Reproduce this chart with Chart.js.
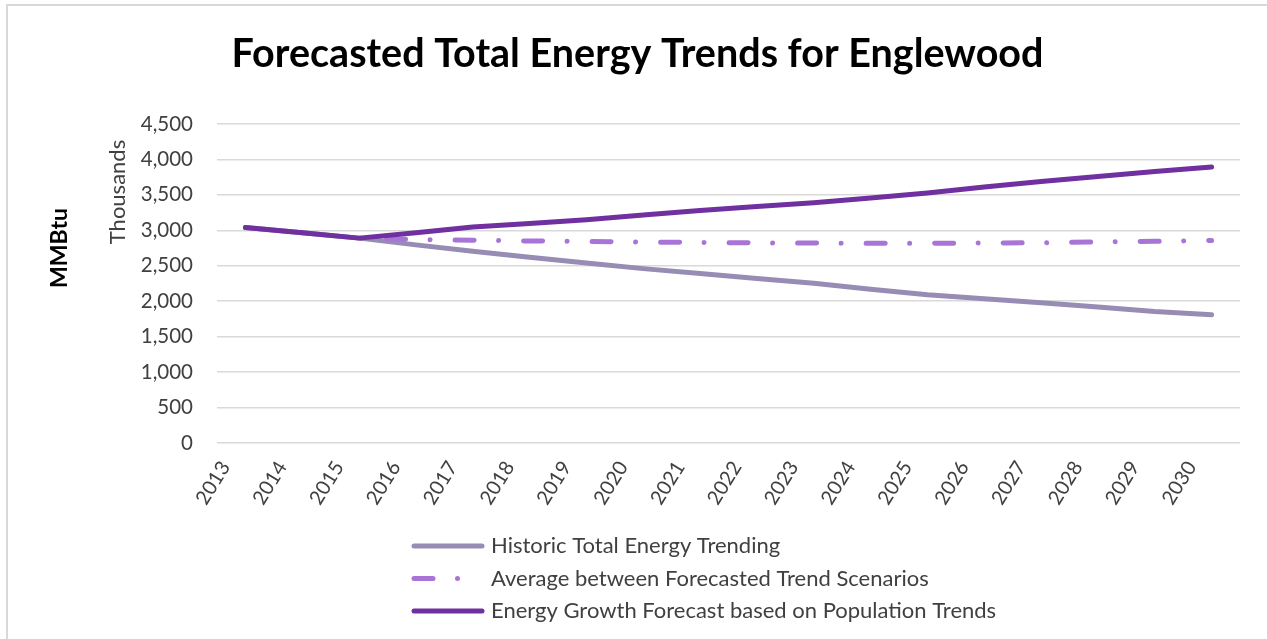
<!DOCTYPE html>
<html>
<head>
<meta charset="utf-8">
<script src="https://cdn.jsdelivr.net/npm/chart.js@4"></script>
<style>
	body { margin: 0; background: #fff; }
	.wrap { position: relative; width: 1267px; height: 639px; overflow: hidden; }
	.frame { position: absolute; left: 6px; top: 4px; width: 1300px; height: 700px; border-left: 2px solid #d9d9d9; border-top: 2px solid #d9d9d9; }
	canvas { position: absolute; left: 0; top: 0; }
</style>
</head>
<body>
<div class="wrap">
	<div class="frame"></div>
	<canvas id="chart" width="1267" height="639"></canvas>
</div>
<script>
const YEARS = ['2013', '2014', '2015', '2016', '2017', '2018', '2019', '2020', '2021',
	'2022', '2023', '2024', '2025', '2026', '2027', '2028', '2029', '2030']

// values in thousands of MMBtu
const HISTORIC = [3040, 2965, 2890, 2795, 2705, 2620, 2540, 2460, 2390,
	2320, 2255, 2170, 2090, 2035, 1980, 1920, 1855, 1808]
const AVERAGE = [null, null, 2890, 2870, 2860, 2850, 2842, 2835, 2828,
	2824, 2820, 2818, 2818, 2820, 2825, 2835, 2845, 2857]
const POPULATION = [3040, 2965, 2890, 2965, 3046, 3095, 3150, 3215, 3280,
	3335, 3390, 3455, 3527, 3610, 3690, 3760, 3830, 3894]

const Y_TICKS = [0, 500, 1000, 1500, 2000, 2500, 3000, 3500, 4000, 4500]

const TITLE = 'Forecasted Total Energy Trends for Englewood'
const UNITS_LABEL = 'Thousands'
const AXIS_LABEL = 'MMBtu'

const FONT = 'Lato, "Open Sans", sans-serif'
const TEXT_COLOR = '#404040'
const GRID_COLOR = '#d9d9d9'
const DASH = [19, 24.5, 0.01, 25]
const DASH_OFFSET = 41

// rotated axis labels on the left
const side_labels = {
	id: 'side_labels',
	afterDraw (chart) {
		const ctx = chart.ctx
		ctx.save()
		ctx.fillStyle = TEXT_COLOR
		ctx.textAlign = 'center'
		ctx.textBaseline = 'middle'
		ctx.font = `22px ${FONT}`
		ctx.translate(118, 192)
		ctx.rotate(-Math.PI / 2)
		ctx.fillText(UNITS_LABEL, 0, 0)
		ctx.restore()

		ctx.save()
		ctx.fillStyle = '#000'
		ctx.textAlign = 'center'
		ctx.textBaseline = 'middle'
		ctx.font = `bold 23px ${FONT}`
		ctx.translate(60, 248)
		ctx.rotate(-Math.PI / 2)
		ctx.fillText(AXIS_LABEL, 0, 0)
		ctx.restore()
	},
}

// one legend entry per row, left aligned, like the original
const row_legend = {
	id: 'row_legend',
	afterDraw (chart) {
		const ctx = chart.ctx
		const datasets = chart.data.datasets
		const x0 = 414
		const y0 = chart.chartArea.bottom + 103
		ctx.save()
		datasets.forEach(function (ds, idx) {
			const y = y0 + idx * 32.5
			ctx.strokeStyle = ds.borderColor
			ctx.lineWidth = ds.borderWidth
			ctx.lineCap = 'round'
			ctx.setLineDash(ds.borderDash || [])
			ctx.lineDashOffset = 0
			ctx.beginPath()
			ctx.moveTo(x0, y)
			ctx.lineTo(ds.borderDash ? x0 + 62 : x0 + 68, y)
			ctx.stroke()
			ctx.setLineDash([])
			ctx.fillStyle = TEXT_COLOR
			ctx.font = `22px ${FONT}`
			ctx.textAlign = 'left'
			ctx.textBaseline = 'middle'
			ctx.fillText(ds.label, 491, y)
		})
		ctx.restore()
	},
}

const ctx = document.getElementById('chart').getContext('2d')
const chart = new Chart(ctx, {
	type: 'line',
	data: {
		labels: YEARS,
		datasets: [
			{
				label: 'Historic Total Energy Trending',
				data: HISTORIC,
				borderColor: '#968cb4',
				backgroundColor: '#968cb4',
				borderWidth: 5,
				borderCapStyle: 'round',
				borderJoinStyle: 'round',
				pointRadius: 0,
				tension: 0,
				order: 2,
			},
			{
				label: 'Average between Forecasted Trend Scenarios',
				data: AVERAGE,
				borderColor: '#a875d6',
				backgroundColor: '#a875d6',
				borderWidth: 5,
				borderDash: DASH,
				borderDashOffset: DASH_OFFSET,
				borderCapStyle: 'round',
				pointRadius: 0,
				tension: 0,
				order: 1,
			},
			{
				label: 'Energy Growth Forecast based on Population Trends',
				data: POPULATION,
				borderColor: '#7030a0',
				backgroundColor: '#7030a0',
				borderWidth: 5,
				borderCapStyle: 'round',
				borderJoinStyle: 'round',
				pointRadius: 0,
				tension: 0,
				order: 0,
			},
		],
	},
	options: {
		responsive: false,
		animation: false,
		layout: { padding: { left: 35, right: 27, top: 0, bottom: 116 } },
		plugins: {
			legend: { display: false },
			tooltip: { enabled: false },
			title: {
				display: true,
				text: TITLE,
				color: '#000',
				font: { family: FONT, size: 39.5, weight: 'bold' },
				padding: { top: 31, bottom: 45.6 },
			},
		},
		scales: {
			x: {
				offset: true,
				grid: { display: false },
				border: { display: false },
				ticks: {
					color: TEXT_COLOR,
					font: { family: FONT, size: 20 },
					minRotation: 58,
					maxRotation: 58,
					autoSkip: false,
					padding: 6,
					labelOffset: -20,
				},
				afterFit (scale) { scale.height = 80 },
			},
			y: {
				min: 0,
				max: 4500,
				afterBuildTicks (scale) { scale.ticks = Y_TICKS.map(v => ({ value: v })) },
				grid: { color: GRID_COLOR, lineWidth: 1.5, drawTicks: false },
				border: { display: false },
				ticks: {
					color: TEXT_COLOR,
					font: { family: FONT, size: 20.5 },
					padding: 24,
					callback: v => v.toLocaleString('en-US'),
				},
				afterFit (scale) { scale.width = 182 },
			},
		},
	},
	plugins: [side_labels, row_legend],
})
</script>
</body>
</html>
